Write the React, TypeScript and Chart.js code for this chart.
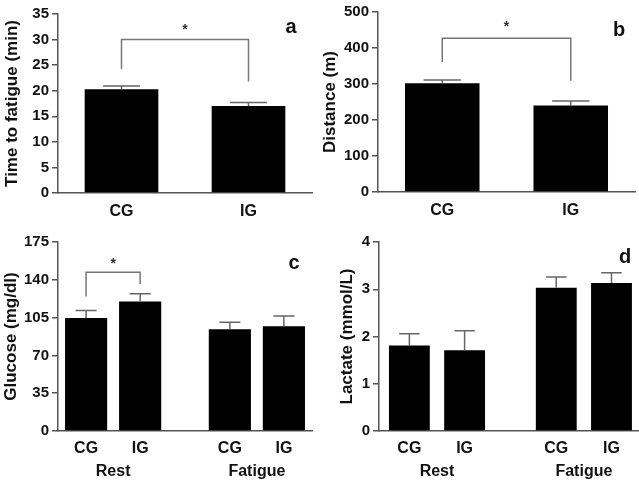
import { useEffect, useRef } from 'react';
import { Chart, registerables } from 'chart.js';

Chart.register(...registerables);

// ---- values ----
const groupsAB = ['CG', 'IG'];
const timeToFatigue = [20.3, 17.0];
const timeToFatigueSem = [0.6, 0.7];
const timeTicks = [0, 5, 10, 15, 20, 25, 30, 35];
const timeBracket = [30.0, 24.2, 21.8]; // bar top, left leg end, right leg end
const timeStar = 32.6;

const distance = [302, 240];
const distanceSem = [9, 13];
const distanceTicks = [0, 100, 200, 300, 400, 500];
const distanceBracket = [427, 361, 309];
const distanceStar = 470;

const groupsCD = ['CG', 'IG', 'CG', 'IG'];
const conditions = ['Rest', 'Fatigue'];

const glucose = [104.7, 119.9, 94.2, 97.0];
const glucoseSem = [6.9, 7.1, 6.4, 9.5];
const glucoseTicks = [0, 35, 70, 105, 140, 175];
const glucoseBracket = [146.9, 124.5, 136.0];
const glucoseStar = 158;

const lactate = [1.81, 1.71, 3.03, 3.13];
const lactateSem = [0.25, 0.41, 0.23, 0.22];
const lactateTicks = [0, 1, 2, 3, 4];

// slot positions of the four bars on the grouped panels (two per condition)
const groupedSlots = [0.52, 1.52, 3.18, 4.18];

const FONT = '"Liberation Sans", Arial, Helvetica, sans-serif';
const AXIS = '#555';
const INK = '#111';

interface Frame {
  left: number;
  top: number;
  width: number;
  height: number;
  padTop: number;
  padRight: number;
  yWidth: number;
  xHeight: number;
  x2Height?: number;
  titlePad: number;
}

interface PanelSpec {
  letter: string;
  letterDx: number;
  letterDy: number;
  yTitle: string;
  yTicks: number[];
  labels: string[];
  values: number[];
  sem: number[];
  grouped: boolean;
  xRange?: [number, number];
  barPercentage: number;
  bracket?: number[];
  bracketBars?: [number, number];
  star?: number;
  frame: Frame;
}

const panels: PanelSpec[] = [
  {
    letter: 'a', letterDx: -21, letterDy: 19,
    yTitle: 'Time to fatigue (min)', yTicks: timeTicks,
    labels: groupsAB, values: timeToFatigue, sem: timeToFatigueSem,
    grouped: false, barPercentage: 0.58,
    bracket: timeBracket, bracketBars: [0, 1], star: timeStar,
    frame: { left: 0, top: 0, width: 320, height: 230, padTop: 14, padRight: 8, yWidth: 58, xHeight: 37, titlePad: 2 },
  },
  {
    letter: 'b', letterDx: -16, letterDy: 24,
    yTitle: 'Distance (m)', yTicks: distanceTicks,
    labels: groupsAB, values: distance, sem: distanceSem,
    grouped: false, barPercentage: 0.58,
    bracket: distanceBracket, bracketBars: [0, 1], star: distanceStar,
    frame: { left: 320, top: 0, width: 319, height: 230, padTop: 11, padRight: 4, yWidth: 58, xHeight: 38, titlePad: 0 },
  },
  {
    letter: 'c', letterDx: -18, letterDy: 27,
    yTitle: 'Glucose (mg/dl)', yTicks: glucoseTicks,
    labels: groupsCD, values: glucose, sem: glucoseSem,
    grouped: true, xRange: [0, 4.70], barPercentage: 0.78,
    bracket: glucoseBracket, bracketBars: [0, 1], star: glucoseStar,
    frame: { left: 0, top: 230, width: 320, height: 255, padTop: 11, padRight: 8, yWidth: 58, xHeight: 23, x2Height: 31, titlePad: 1 },
  },
  {
    letter: 'd', letterDx: -13, letterDy: 21,
    yTitle: 'Lactate (mmol/L)', yTicks: lactateTicks,
    labels: groupsCD, values: lactate, sem: lactateSem,
    grouped: true, xRange: [-0.03, 4.66], barPercentage: 0.74,
    frame: { left: 320, top: 230, width: 319, height: 255, padTop: 9, padRight: 1, yWidth: 59, xHeight: 23, x2Height: 31, titlePad: 17 },
  },
];

function buildConfig(p: PanelSpec): any {
  const f = p.frame;
  const yMin = p.yTicks[0];
  const yMax = p.yTicks[p.yTicks.length - 1];
  const step = p.yTicks[1] - p.yTicks[0];

  // error bars, significance bracket and panel letter
  const overlay = {
    id: 'overlay',
    afterDatasetsDraw(chart: any) {
      const ctx = chart.ctx;
      const yScale = chart.scales.y;
      const meta = chart.getDatasetMeta(0);
      ctx.save();
      ctx.strokeStyle = '#666';
      ctx.lineWidth = 1.5;
      meta.data.forEach((bar: any, i: number) => {
        const yTop = yScale.getPixelForValue(p.values[i]);
        const yErr = yScale.getPixelForValue(p.values[i] + p.sem[i]);
        const half = bar.width / 4;
        ctx.beginPath();
        ctx.moveTo(bar.x, yTop);
        ctx.lineTo(bar.x, yErr);
        ctx.moveTo(bar.x - half, yErr);
        ctx.lineTo(bar.x + half, yErr);
        ctx.stroke();
      });
      if (p.bracket && p.bracketBars) {
        const [top, leftEnd, rightEnd] = p.bracket;
        const xl = meta.data[p.bracketBars[0]].x;
        const xr = meta.data[p.bracketBars[1]].x;
        const yt = yScale.getPixelForValue(top);
        ctx.strokeStyle = '#777';
        ctx.beginPath();
        ctx.moveTo(xl, yScale.getPixelForValue(leftEnd));
        ctx.lineTo(xl, yt);
        ctx.lineTo(xr, yt);
        ctx.lineTo(xr, yScale.getPixelForValue(rightEnd));
        ctx.stroke();
        if (p.star !== undefined) {
          const size = 14;
          ctx.fillStyle = '#333';
          ctx.font = `bold ${size}px ${FONT}`;
          ctx.textAlign = 'center';
          ctx.textBaseline = 'alphabetic';
          ctx.fillText('*', (xl + xr) / 2, yScale.getPixelForValue(p.star) + size * 0.58);
        }
      }
      const area = chart.chartArea;
      ctx.fillStyle = INK;
      ctx.font = `bold 20px ${FONT}`;
      ctx.textAlign = 'center';
      ctx.textBaseline = 'alphabetic';
      ctx.fillText(p.letter, area.right + p.letterDx, area.top + p.letterDy);
      ctx.restore();
    },
  };

  const tickFont = { family: FONT, size: 15, weight: 'bold' as const };
  const catFont = { family: FONT, size: 16, weight: 'bold' as const };

  const yScale = {
    min: yMin,
    max: yMax,
    ticks: { stepSize: step, color: INK, font: tickFont, padding: 3 },
    grid: { drawOnChartArea: false, drawTicks: true, tickLength: 6, color: AXIS, lineWidth: 1.5 },
    border: { color: AXIS, width: 1.5 },
    title: {
      display: true,
      text: p.yTitle,
      color: INK,
      font: { family: FONT, size: 17, weight: 'bold' as const },
      padding: { top: f.titlePad, bottom: 0 },
    },
    afterFit: (s: any) => { s.width = f.yWidth; },
  };

  let scales: any;
  let data: any;
  if (!p.grouped) {
    data = {
      labels: p.labels,
      datasets: [{ data: p.values, backgroundColor: '#000', barPercentage: p.barPercentage, categoryPercentage: 1 }],
    };
    scales = {
      x: {
        type: 'category',
        offset: true,
        grid: { display: false },
        border: { color: AXIS, width: 1.5 },
        ticks: { color: INK, font: catFont, padding: 1, maxRotation: 0 },
        afterFit: (s: any) => { s.height = f.xHeight; },
      },
      y: yScale,
    };
  } else {
    const [xMin, xMax] = p.xRange as [number, number];
    const centers = conditions.map((_, g) => (groupedSlots[2 * g] + groupedSlots[2 * g + 1]) / 2);
    data = {
      datasets: [{
        data: p.values.map((v, i) => ({ x: groupedSlots[i], y: v })),
        backgroundColor: '#000',
        barPercentage: p.barPercentage,
        categoryPercentage: 1,
      }],
    };
    scales = {
      x: {
        type: 'linear',
        position: 'bottom',
        offset: false,
        weight: 0,
        min: xMin,
        max: xMax,
        grid: { display: false, offset: false },
        border: { color: AXIS, width: 1.5 },
        afterBuildTicks: (s: any) => { s.ticks = groupedSlots.map((v) => ({ value: v })); },
        ticks: { color: INK, font: catFont, padding: 0, autoSkip: false, maxRotation: 0, callback: (_v: any, i: number) => p.labels[i] },
        afterFit: (s: any) => { s.height = f.xHeight; },
      },
      x2: {
        type: 'linear',
        position: 'bottom',
        offset: false,
        weight: 1,
        min: xMin,
        max: xMax,
        grid: { display: false, offset: false },
        border: { display: false },
        afterBuildTicks: (s: any) => { s.ticks = centers.map((v) => ({ value: v })); },
        ticks: { color: INK, font: catFont, padding: 0, autoSkip: false, maxRotation: 0, callback: (_v: any, i: number) => conditions[i] },
        afterFit: (s: any) => { s.height = f.x2Height; },
      },
      y: yScale,
    };
  }

  return {
    type: 'bar',
    data,
    options: {
      responsive: false,
      animation: false,
      layout: { padding: { top: f.padTop, right: f.padRight, left: 0, bottom: 0 } },
      plugins: { legend: { display: false }, tooltip: { enabled: false } },
      scales,
    },
    plugins: [overlay],
  };
}

function Panel({ spec }: { spec: PanelSpec }) {
  const ref = useRef<HTMLCanvasElement | null>(null);
  useEffect(() => {
    if (!ref.current) return;
    const chart = new Chart(ref.current, buildConfig(spec));
    return () => chart.destroy();
  }, [spec]);
  const f = spec.frame;
  return (
    <canvas
      ref={ref}
      width={f.width}
      height={f.height}
      style={{ position: 'absolute', left: f.left, top: f.top, width: f.width, height: f.height }}
    />
  );
}

export default function App() {
  return (
    <div style={{ position: 'absolute', left: 0, top: 0, width: 639, height: 485, background: '#fff', overflow: 'hidden' }}>
      {panels.map((p) => (
        <Panel key={p.letter} spec={p} />
      ))}
    </div>
  );
}
